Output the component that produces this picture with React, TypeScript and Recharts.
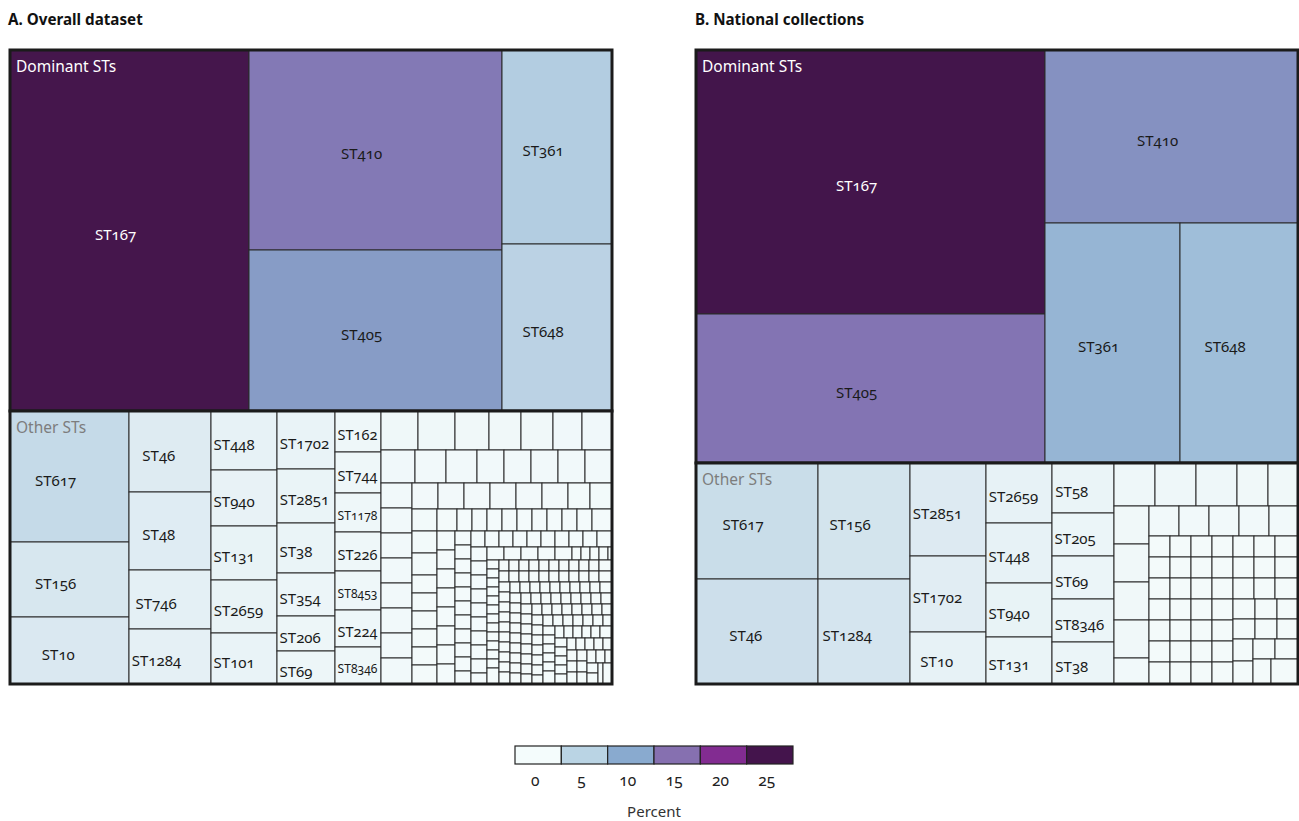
import React from 'react'
import { Treemap } from 'recharts'

/* ---------- data: isolates per ST ---------- */

// A. Overall dataset
const DOMINANT_A_ST = ['ST167', 'ST410', 'ST405', 'ST361', 'ST648']
const DOMINANT_A_N = [769, 452, 362, 190, 166]
const OTHER_A_ST = [
  'ST617', 'ST156', 'ST10', 'ST46', 'ST48', 'ST746', 'ST1284', 'ST448', 'ST940', 'ST131',
  'ST2659', 'ST101', 'ST1702', 'ST2851', 'ST38', 'ST354', 'ST206', 'ST69', 'ST162', 'ST744',
  'ST1178', 'ST226', 'ST8453', 'ST224', 'ST8346',
]
const OTHER_A_N = [139, 80, 71, 59, 57, 43, 41, 35, 33, 32, 31, 30, 30, 28, 26, 22, 18, 18, 17, 17, 16, 16, 16, 15, 15]
// STs too small to carry a label: [isolates, number of STs]
const UNLABELLED_A: [number, number][] = [
  [13, 2], [12, 1], [11, 2], [10, 3], [9, 2], [8, 4], [7, 9], [6, 6], [5, 5], [4, 7], [3, 18], [2, 36], [1, 143],
]

// B. National collections
const DOMINANT_B_ST = ['ST167', 'ST405', 'ST410', 'ST361', 'ST648']
const DOMINANT_B_N = [208, 118, 99, 73, 64]
const OTHER_B_ST = [
  'ST617', 'ST46', 'ST156', 'ST1284', 'ST2851', 'ST1702', 'ST10', 'ST2659', 'ST448', 'ST940',
  'ST131', 'ST58', 'ST205', 'ST69', 'ST8346', 'ST38',
]
const OTHER_B_N = [32, 29, 24, 22, 16, 13, 9, 9, 9, 8, 7, 7, 6, 6, 6, 6]
const UNLABELLED_B: [number, number][] = [[4, 3], [3, 6], [2, 6], [1, 49]]

const LEGEND_TICKS = [0, 5, 10, 15, 20, 25]
const LEGEND_COLORS = ['#f4fcfc', '#bad4e4', '#89aacf', '#8670b0', '#822c91', '#44144c']

/* ---------- helpers ---------- */

const FONT = '"Noto Sans", Lato, sans-serif'
const LABEL_FS = 15
const GROUP_FS = 15.5
const CHAR_W = 0.565

// fill ramp, percent -> colour
const RAMP: [number, string][] = [
  [0, '#f4fbfb'], [2, '#dbe9f1'], [4, '#c6dbe8'], [5, '#b9d1e4'], [8, '#99bad7'],
  [11, '#8598c4'], [13.5, '#8376b4'], [17, '#844a9c'], [20, '#6f2a80'], [22, '#46164d'], [25, '#42144a'],
]

const hex = (c: string) => [1, 3, 5].map(i => parseInt(c.slice(i, i + 2), 16))
function rampColor(p: number): string {
  if (p <= RAMP[0][0]) return RAMP[0][1]
  for (let i = 1; i < RAMP.length; i++) {
    const [p1, c1] = RAMP[i]
    const [p0, c0] = RAMP[i - 1]
    if (p <= p1) {
      const t = (p - p0) / (p1 - p0)
      const a = hex(c0), b = hex(c1)
      return `rgb(${a.map((v, k) => Math.round(v + (b[k] - v) * t)).join(',')})`
    }
  }
  return RAMP[RAMP.length - 1][1]
}

const leaves = (names: string[], counts: number[]) => names.map((name, i) => ({ name, size: counts[i] }))
const unlabelled = (freq: [number, number][]) =>
  freq.flatMap(([n, k]) => Array.from({ length: k }, () => ({ name: '', size: n })))

function buildPanel(domST: string[], domN: number[], othST: string[], othN: number[], small: [number, number][]) {
  const data = [
    { name: 'Dominant STs', children: leaves(domST, domN) },
    { name: 'Other STs', children: [...leaves(othST, othN), ...unlabelled(small)] },
  ]
  const total = [...domN, ...othN, ...small.map(([n, k]) => n * k)].reduce((s, v) => s + v, 0)
  return { data, total }
}

const PANEL_A = buildPanel(DOMINANT_A_ST, DOMINANT_A_N, OTHER_A_ST, OTHER_A_N, UNLABELLED_A)
const PANEL_B = buildPanel(DOMINANT_B_ST, DOMINANT_B_N, OTHER_B_ST, OTHER_B_N, UNLABELLED_B)

/* ---------- treemap cell (leaf + group outline drawn after the group's last leaf) ---------- */

function makeCell(total: number) {
  return function TreeCell(props: any) {
    const { x, y, width, height, depth, name, value, root, index } = props
    if (depth !== 2) return null
    const pct = (100 * value) / total
    let label = null
    if (name) {
      const len = name.length
      const fs = Math.min(LABEL_FS, (width - 5) / (CHAR_W * len))
      if (fs >= 7 && height > fs + 4) {
        const tw = fs * CHAR_W * len
        const shift = Math.max(0, Math.min(0.33 * tw, (width - tw) / 2 - 2))
        label = (
          <text x={x + width / 2 - shift} y={y + height / 2 + 0.6 * fs} textAnchor="middle"
            fontSize={fs} fill={pct > 18 ? '#ffffff' : '#1a1a1a'}>{name}</text>
        )
      }
    }
    const last = root && root.children && index === root.children.length - 1
    const firstPct = last ? (100 * root.children[0].value) / total : 0
    return (
      <g>
        <rect x={x} y={y} width={width} height={height} fill={rampColor(pct)} stroke="#2a2a2a" strokeWidth={1} />
        {label}
        {last && (
          <g>
            <rect x={root.x} y={root.y} width={root.width} height={root.height} fill="none" stroke="#1b1b1b" strokeWidth={3} />
            <text x={root.x + 6} y={root.y + 22} fontSize={GROUP_FS} fill={firstPct > 18 ? '#ffffff' : '#7d7d7d'}>{root.name}</text>
          </g>
        )}
      </g>
    )
  }
}

const CELL_A = makeCell(PANEL_A.total)
const CELL_B = makeCell(PANEL_B.total)

/* ---------- page ---------- */

const BOX_X = 515
const BOX_W = 46.33

export default function App() {
  return (
    <div style={{ position: 'relative', width: 1299, height: 821, background: '#fff', fontFamily: FONT, fontVariantNumeric: 'oldstyle-nums', fontFeatureSettings: '"onum" 1' }}>
      <style>{'body{margin:0} .recharts-surface{overflow:visible}'}</style>
      <svg width={1299} height={821} style={{ position: 'absolute', left: 0, top: 0 }}>
        <text x={8} y={25} fontSize={15.2} fontWeight={700} fill="#111">A. Overall dataset</text>
        <text x={695} y={25} fontSize={15.2} fontWeight={700} fill="#111">B. National collections</text>
        {LEGEND_TICKS.map((t, i) => (
          <g key={t}>
            <rect x={BOX_X + i * BOX_W} y={746} width={BOX_W} height={18} fill={LEGEND_COLORS[i]} stroke="#222" strokeWidth={1.2} />
            <text x={BOX_X + (i + 0.5) * BOX_W - 3} y={786} fontSize={15.5} textAnchor="middle" fill="#222">{t}</text>
          </g>
        ))}
        <text x={654} y={817} fontSize={15} textAnchor="middle" fill="#333">Percent</text>
      </svg>
      <div style={{ position: 'absolute', left: 10, top: 50 }}>
        <Treemap width={602} height={634} data={PANEL_A.data} dataKey="size" nameKey="name"
          aspectRatio={1.15} isAnimationActive={false} content={CELL_A} />
      </div>
      <div style={{ position: 'absolute', left: 696, top: 50 }}>
        <Treemap width={602} height={634} data={PANEL_B.data} dataKey="size" nameKey="name"
          aspectRatio={1.1232} isAnimationActive={false} content={CELL_B} />
      </div>
    </div>
  )
}
